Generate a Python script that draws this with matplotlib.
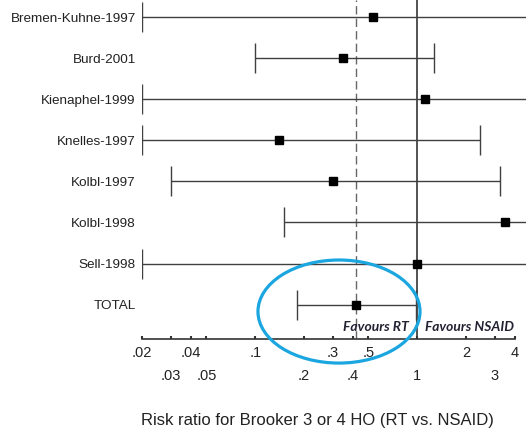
import numpy as np
import matplotlib.pyplot as plt
from matplotlib.patches import Ellipse

# study rows (top to bottom)
studies = ['Bremen-Kuhne-1997', 'Burd-2001', 'Kienaphel-1999', 'Knelles-1997',
           'Kolbl-1997', 'Kolbl-1998', 'Sell-1998', 'TOTAL']
rr = [0.53, 0.35, 1.11, 0.14, 0.30, 3.5, 1.0, 0.42]
ci_lo = [0.02, 0.10, 0.02, 0.02, 0.03, 0.15, 0.02, 0.18]
ci_hi = [10, 1.26, 10, 2.45, 3.25, 10, 10, 0.98]
pooled = 0.42

upper_ticks = [0.02, 0.04, 0.1, 0.3, 0.5, 2, 4]
upper_labels = ['.02', '.04', '.1', '.3', '.5', '2', '4']
lower_ticks = [0.03, 0.05, 0.2, 0.4, 1, 3]
lower_labels = ['.03', '.05', '.2', '.4', '1', '3']

plt.rcParams['font.family'] = ['Liberation Sans', 'DejaVu Sans']

fig = plt.figure(figsize=(5.26, 4.3), dpi=100)
ax = fig.add_axes([142 / 526, 91 / 430, 384 / 526, 339 / 430])

y = np.arange(len(studies))
rr_a = np.array(rr)
xerr = [rr_a - np.array(ci_lo), np.array(ci_hi) - rr_a]

ax.axvline(1, color='#444444', lw=1.3, zorder=1)
ax.axvline(pooled, color='#666666', lw=1.0, dashes=(6, 3), zorder=1)

ax.errorbar(rr, y, xerr=xerr, fmt='none', ecolor='#404040', elinewidth=1.0,
            capsize=10.8, capthick=1.0, zorder=2)
ax.plot(rr, y, 's', color='black', markersize=5.2, zorder=3)

ax.set_xscale('log')
ax.set_xlim(0.02, 4.69)
ax.set_ylim(7.835, -0.414)

ax.set_yticks(y)
ax.set_yticklabels(studies, fontsize=9.7, color='#222222')
ax.tick_params(axis='y', length=0, pad=4.5)

ax.set_xticks(upper_ticks)
ax.set_xticklabels(upper_labels)
ax.set_xticks(lower_ticks, minor=True)
ax.set_xticklabels(lower_labels, minor=True)
ax.tick_params(axis='x', which='major', direction='in', length=2.5, width=1.5,
               color='#333333', labelsize=10.5, labelcolor='#222222', pad=5)
ax.tick_params(axis='x', which='minor', direction='in', length=2.5, width=1.5,
               color='#333333', labelsize=10.5, labelcolor='#222222', pad=21.5)

for side in ['top', 'right', 'left']:
    ax.spines[side].set_visible(False)
ax.spines['bottom'].set_bounds(0.02, 4)
ax.spines['bottom'].set_color('#333333')
ax.spines['bottom'].set_linewidth(1.2)

ax.text(0.893, 7.54, 'Favours RT', ha='right', va='center', fontsize=10,
        fontweight='bold', fontstyle='italic', color='#222233',
        family=['Lato', 'DejaVu Sans'])
ax.text(1.12, 7.54, 'Favours NSAID', ha='left', va='center', fontsize=9.9,
        fontweight='bold', fontstyle='italic', color='#222233',
        family=['Lato', 'DejaVu Sans'])

ax.add_patch(Ellipse((0.513, 0.081), 0.422, 0.304, transform=ax.transAxes,
                     fill=False, edgecolor='#1ba6e0', lw=2.3, clip_on=False, zorder=4))

fig.text(317.5 / 526, 10 / 430, 'Risk ratio for Brooker 3 or 4 HO (RT vs. NSAID)',
         ha='center', va='center', fontsize=12, color='#222222')

fig.savefig('out.png', dpi=100)
